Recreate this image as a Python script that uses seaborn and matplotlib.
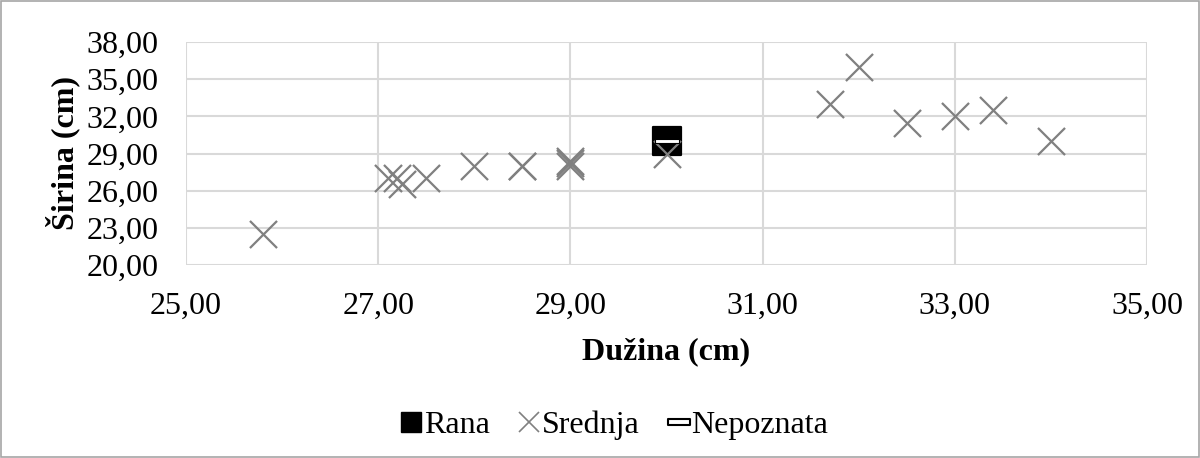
import numpy as np
import pandas as pd
import matplotlib.pyplot as plt
import seaborn as sns
from matplotlib.path import Path
from matplotlib.lines import Line2D
from matplotlib.patches import Rectangle
from matplotlib.ticker import FuncFormatter, FixedLocator

# Data
rana_x = [30.0]
rana_y = [30.0]
srednja_x = [25.8, 27.1, 27.2, 27.25, 27.5, 28.0, 28.5, 28.5, 29.0, 29.0, 29.0, 30.0,
             31.7, 32.0, 32.5, 33.0, 33.4, 34.0]
srednja_y = [22.5, 27.0, 27.0, 26.5, 27.0, 28.0, 28.0, 28.0, 28.0, 28.2, 28.4, 29.0,
             33.0, 36.0, 31.5, 32.0, 32.5, 30.0]
nepoznata_x = [30.0]
nepoznata_y = [30.0]
x_ticks = [25, 27, 29, 31, 33, 35]
y_ticks = [20, 23, 26, 29, 32, 35, 38]

df = pd.concat([
    pd.DataFrame({'x': rana_x, 'y': rana_y, 'grupa': 'Rana'}),
    pd.DataFrame({'x': srednja_x, 'y': srednja_y, 'grupa': 'Srednja'}),
    pd.DataFrame({'x': nepoznata_x, 'y': nepoznata_y, 'grupa': 'Nepoznata'}),
])

sns.set_theme(style="white")
plt.rcParams['font.family'] = ['Liberation Serif', 'DejaVu Serif']
plt.rcParams['text.color'] = 'black'
plt.rcParams['axes.labelcolor'] = 'black'

fig = plt.figure(figsize=(12, 4.58), dpi=100)
ax = fig.add_axes([186 / 1200, 1 - 265 / 458, (1147 - 186) / 1200, (265 - 42) / 458])

def bar_marker(h):
    return Path([(-1, -h), (1, -h), (1, h), (-1, h), (-1, -h)],
                [Path.MOVETO, Path.LINETO, Path.LINETO, Path.LINETO, Path.CLOSEPOLY])

gray = '#808080'
sns.scatterplot(data=df[df.grupa == 'Rana'], x='x', y='y', marker='s', s=400,
                color='black', edgecolor='black', ax=ax, zorder=3, legend=False)
sns.scatterplot(data=df[df.grupa == 'Srednja'], x='x', y='y', marker='x', s=380,
                color=gray, linewidth=1.6, ax=ax, zorder=4, legend=False)
sns.scatterplot(data=df[df.grupa == 'Nepoznata'], x='x', y='y', marker=bar_marker(0.2), s=300,
                color='white', edgecolor='black', linewidth=0.8, ax=ax, zorder=5, legend=False)

ax.set_xlim(25, 35)
ax.set_ylim(20, 38)
ax.xaxis.set_major_locator(FixedLocator(x_ticks))
ax.yaxis.set_major_locator(FixedLocator(y_ticks))
fmt = FuncFormatter(lambda v, p: f"{v:.2f}".replace('.', ','))
ax.xaxis.set_major_formatter(fmt)
ax.yaxis.set_major_formatter(fmt)
ax.grid(True, color='#d9d9d9', linewidth=1.5)
ax.set_axisbelow(True)
for s in ax.spines.values():
    s.set_visible(False)
ax.tick_params(axis='x', labelsize=23, colors='black', length=0, pad=19)
ax.tick_params(axis='y', labelsize=23, colors='black', length=0, pad=20)

ax.set_xlabel('Dužina (cm)', fontsize=23, fontweight='bold', labelpad=12)
ax.set_ylabel('Širina (cm)', fontsize=23, fontweight='bold', labelpad=4)

handles = [
    Line2D([], [], linestyle='none', marker='s', markersize=14.5, color='black'),
    Line2D([], [], linestyle='none', marker='x', markersize=14.5, color=gray, markeredgewidth=1.2),
    Line2D([], [], linestyle='none', marker=bar_marker(0.28), markersize=15.5, markerfacecolor='white',
           markeredgecolor='black', markeredgewidth=1.5),
]
fig.legend(handles, ['Rana', 'Srednja', 'Nepoznata'], loc='center', bbox_to_anchor=(0.512, 1 - 425 / 458),
           ncol=3, frameon=False, fontsize=23, handlelength=0.65, handletextpad=0.08,
           columnspacing=0.9, borderpad=0)

fig.patches.append(Rectangle((0.001, 0.002), 0.998, 0.996, transform=fig.transFigure,
                             fill=False, edgecolor='#a6a6a6', linewidth=1.2))

fig.savefig('out.png', dpi=100)
